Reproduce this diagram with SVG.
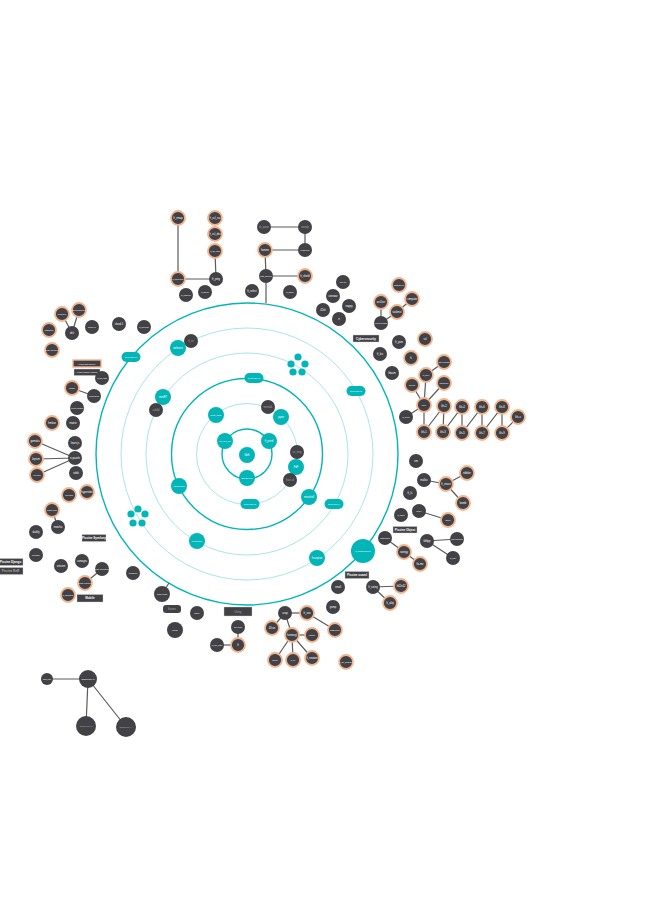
<svg xmlns="http://www.w3.org/2000/svg" width="667" height="908" viewBox="0 0 667 908">
<style>
text{font-family:"Liberation Sans","DejaVu Sans",sans-serif;font-size:2.6px;text-anchor:middle;dominant-baseline:central;fill:#ffffff}
.d{fill:#424145}
.o{fill:#424145;stroke:#f1b48e;stroke-width:1.8}
.t{fill:#03b5b7}
.rt{fill:none;stroke:#03b5b7;stroke-width:1.4}
.rl{fill:none;stroke:#9fe2e3;stroke-width:0.9}
.e{stroke:#5b5b5b;stroke-width:1.2;fill:none}
.g{fill:#a9a9ab}
.bx{fill:#424145;stroke:#cfcfcf;stroke-width:0.4}
.bt{font-size:3px;font-weight:bold}
</style>
<rect width="667" height="908" fill="#ffffff"/>
<g id="rings">
<circle class="rt" cx="247" cy="454" r="151"/>
<circle class="rl" cx="247" cy="454" r="126"/>
<circle class="rl" cx="247" cy="454" r="101"/>
<circle class="rt" cx="247" cy="454" r="75.5"/>
<circle class="rl" cx="247" cy="454" r="50.5"/>
<circle class="rt" cx="247" cy="454" r="25"/>
</g>
<g id="connectors">
<line class="e" x1="178" y1="218" x2="178" y2="279"/>
<line class="e" x1="178" y1="279" x2="216" y2="279"/>
<line class="e" x1="216" y1="279" x2="215" y2="251"/>
<line class="e" x1="264" y1="227" x2="305" y2="227"/>
<line class="e" x1="305" y1="227" x2="305" y2="250"/>
<line class="e" x1="265" y1="250" x2="305" y2="250"/>
<line class="e" x1="265" y1="250" x2="266" y2="276"/>
<line class="e" x1="266" y1="276" x2="305" y2="276"/>
<line class="e" x1="266" y1="276" x2="266" y2="303"/>
<line class="e" x1="381" y1="302" x2="381" y2="323"/>
<line class="e" x1="381" y1="323" x2="397" y2="312"/>
<line class="e" x1="397" y1="312" x2="412" y2="299"/>
<line class="e" x1="426" y1="375" x2="444" y2="362"/>
<line class="e" x1="426" y1="375" x2="424" y2="405"/>
<line class="e" x1="412" y1="385" x2="424" y2="405"/>
<line class="e" x1="444" y1="383" x2="424" y2="405"/>
<line class="e" x1="424" y1="405" x2="406" y2="417"/>
<line class="e" x1="424" y1="405" x2="424" y2="432"/>
<polyline class="e" points="424,432 444,406 443,432 462,407 462,433 482,407 482,433 502,407 502,433 518,417"/>
<line class="e" x1="424" y1="480" x2="446" y2="484"/>
<line class="e" x1="446" y1="484" x2="467" y2="473"/>
<line class="e" x1="446" y1="484" x2="463" y2="503"/>
<line class="e" x1="419" y1="511" x2="448" y2="520"/>
<line class="e" x1="385" y1="538" x2="404" y2="552"/>
<line class="e" x1="404" y1="552" x2="420" y2="564"/>
<line class="e" x1="427" y1="541" x2="457" y2="539"/>
<line class="e" x1="427" y1="541" x2="453" y2="558"/>
<line class="e" x1="373" y1="587" x2="401" y2="586"/>
<line class="e" x1="373" y1="587" x2="390" y2="603"/>
<line class="e" x1="285" y1="613" x2="307" y2="613"/>
<line class="e" x1="285" y1="613" x2="272" y2="628"/>
<line class="e" x1="285" y1="613" x2="292" y2="635"/>
<line class="e" x1="292" y1="635" x2="312" y2="635"/>
<line class="e" x1="307" y1="613" x2="335" y2="630"/>
<line class="e" x1="292" y1="635" x2="275" y2="660"/>
<line class="e" x1="292" y1="635" x2="293" y2="660"/>
<line class="e" x1="292" y1="635" x2="312" y2="658"/>
<line class="e" x1="162" y1="594" x2="169" y2="583"/>
<line class="e" x1="238" y1="627" x2="238" y2="645"/>
<line class="e" x1="217" y1="645" x2="238" y2="645"/>
<line class="e" x1="72" y1="333" x2="62" y2="314"/>
<line class="e" x1="72" y1="333" x2="79" y2="310"/>
<line class="e" x1="72" y1="388" x2="94" y2="396"/>
<line class="e" x1="75" y1="458" x2="35" y2="441"/>
<line class="e" x1="75" y1="458" x2="36" y2="459"/>
<line class="e" x1="75" y1="458" x2="37" y2="475"/>
<line class="e" x1="52" y1="510" x2="58" y2="527"/>
<line class="e" x1="85" y1="583" x2="102" y2="569"/>
<line class="e" x1="47" y1="679" x2="88" y2="679"/>
<line class="e" x1="88" y1="679" x2="86" y2="726"/>
<line class="e" x1="88" y1="679" x2="126" y2="727"/>
</g>
<g id="core-dark">
<g id="minitalk"><circle class="d" cx="268" cy="407" r="7"/><text class="g" x="268" y="407">minitalk</text></g>
<g id="so_long"><circle class="d" cx="297" cy="452" r="7"/><text class="g" x="297" y="452">so_long</text></g>
<g id="ft_irc"><circle class="d" cx="191" cy="341" r="7"/><text class="g" x="191" y="341">ft_irc</text></g>
</g>
<g id="core">
<g id="libft"><circle class="t" cx="247" cy="455" r="8"/><text x="247" y="455" style="font-size:3.2px">libft</text></g>
<g id="gnl"><circle class="t" cx="225" cy="441" r="8"/><text x="225" y="441" style="font-size:2px">get_next_line</text></g>
<g id="printf"><circle class="t" cx="269" cy="441" r="8"/><text x="269" y="441">ft_printf</text></g>
<g id="b2br"><circle class="t" cx="247" cy="478" r="8"/><text x="247" y="478" style="font-size:2px">Born2beroot</text></g>
<g id="push_swap"><circle class="t" cx="216" cy="415" r="8"/><text x="216" y="415" style="font-size:2.2px">push_swap</text></g>
<g id="pipex"><circle class="t" cx="281" cy="417" r="8"/><text x="281" y="417">pipex</text></g>
<g id="fdf"><circle class="t" cx="296" cy="467" r="8"/><text x="296" y="467">FdF</text></g>
<g id="fractol"><circle class="d" cx="290" cy="480" r="7"/><text class="g" x="290" y="480">fract-ol</text></g>
<g id="exam02"><rect class="t" x="240.5" y="499" width="19" height="10" rx="5"/><text x="250" y="504" style="font-size:1.8px">Exam Rank 02</text></g>
<g id="exam03"><rect class="t" x="244.5" y="373" width="19" height="10" rx="5"/><text x="254" y="378" style="font-size:1.8px">Exam Rank 03</text></g>
<g id="philo"><circle class="t" cx="179" cy="486" r="8"/><text x="179" y="486" style="font-size:2px">philosophers</text></g>
<g id="minishell"><circle class="t" cx="309" cy="497" r="8"/><text x="309" y="497">minishell</text></g>
<g id="miniRT"><circle class="t" cx="163" cy="397" r="8"/><text x="163" y="397">miniRT</text></g>
<g id="cub3d"><circle class="d" cx="156" cy="410" r="7"/><text class="g" x="156" y="410">cub3d</text></g>
<g id="netpractice"><circle class="t" cx="197" cy="541" r="8"/><text x="197" y="541" style="font-size:2px">NetPractice</text></g>
<g id="exam04"><rect class="t" x="324.5" y="499" width="19" height="10" rx="5"/><text x="334" y="504" style="font-size:1.8px">Exam Rank 04</text></g>
<g id="cpp0"><circle class="t" cx="298" cy="357" r="3.6"/><circle class="t" cx="291" cy="364" r="3.6"/><circle class="t" cx="305" cy="364" r="3.6"/><circle class="t" cx="293" cy="372" r="3.6"/><circle class="t" cx="302" cy="372" r="3.6"/></g>
<g id="webserv"><circle class="t" cx="178" cy="348" r="8"/><text x="178" y="348">webserv</text></g>
<g id="cpp1"><circle class="t" cx="138" cy="509" r="3.6"/><circle class="t" cx="131" cy="514" r="3.6"/><circle class="t" cx="145" cy="514" r="3.6"/><circle class="t" cx="133" cy="523" r="3.6"/><circle class="t" cx="142" cy="523" r="3.6"/></g>
<g id="exam05"><rect class="t" x="346.5" y="386" width="19" height="10" rx="5"/><text x="356" y="391" style="font-size:1.8px">Exam Rank 05</text></g>
<g id="inception"><circle class="t" cx="317" cy="558" r="8"/><text x="317" y="558">Inception</text></g>
<g id="exam06"><rect class="t" x="121.5" y="352" width="19" height="10" rx="5"/><text x="131" y="357" style="font-size:1.8px">Exam Rank 06</text></g>
<g id="transcendence"><circle class="t" cx="363" cy="551" r="12"/><text x="363" y="551" style="font-size:2px">ft_transcendence</text></g>
</g>
<g id="outer">
<g id="n1"><circle class="o" cx="178" cy="218" r="7"/><text x="178" y="218">ft_nmap</text></g>
<g id="n2"><circle class="o" cx="215" cy="218" r="7"/><text x="215" y="218">ft_ssl_rsa</text></g>
<g id="n3"><circle class="o" cx="215" cy="234" r="7"/><text x="215" y="234">ft_ssl_des</text></g>
<g id="n4"><circle class="o" cx="215" cy="251" r="7"/><text x="215" y="251" style="font-size:2px">ft_ssl_md5</text></g>
<g id="n5"><circle class="o" cx="178" cy="279" r="7"/><text x="178" y="279" style="font-size:2px">ft_traceroute</text></g>
<g id="n6"><circle class="d" cx="216" cy="279" r="7"/><text x="216" y="279">ft_ping</text></g>
<g id="n7"><circle class="d" cx="186" cy="295" r="7"/><text x="186" y="295" style="font-size:2px">ft_malcolm</text></g>
<g id="n8"><circle class="d" cx="205" cy="292" r="7"/><text x="205" y="292" style="font-size:2px">ft_shield</text></g>
<g id="n9"><circle class="d" cx="264" cy="227" r="7"/><text class="g" x="264" y="227">dr_quine</text></g>
<g id="n10"><circle class="d" cx="305" cy="227" r="7"/><text class="g" x="305" y="227">woody</text></g>
<g id="n11"><circle class="d" cx="305" cy="250" r="7"/><text x="305" y="250" style="font-size:2px">pestilence</text></g>
<g id="n12"><circle class="o" cx="265" cy="250" r="7"/><text x="265" y="250">famine</text></g>
<g id="n13"><circle class="d" cx="266" cy="276" r="7"/><text x="266" y="276" style="font-size:2px">matt_daemon</text></g>
<g id="n14"><circle class="o" cx="305" cy="276" r="7"/><text x="305" y="276">ft_shield</text></g>
<g id="n15"><circle class="d" cx="252" cy="291" r="7"/><text x="252" y="291">ft_select</text></g>
<g id="n16"><circle class="d" cx="290" cy="292" r="7"/><text x="290" y="292" style="font-size:2px">ft_strace</text></g>
<g id="n17"><circle class="d" cx="343" cy="282" r="7"/><text x="343" y="282" style="font-size:2px">lem-ipc</text></g>
<g id="n18"><circle class="d" cx="333" cy="296" r="7"/><text x="333" y="296">corewar</text></g>
<g id="n19"><circle class="d" cx="349" cy="306" r="7"/><text x="349" y="306">nappy</text></g>
<g id="n20"><circle class="d" cx="323" cy="310" r="7"/><text x="323" y="310">42sh</text></g>
<g id="n21"><circle class="d" cx="339" cy="319" r="7"/><text x="339" y="319">rt</text></g>
<g id="n22"><circle class="o" cx="399" cy="285" r="7"/><text x="399" y="285" style="font-size:2px">abstract-vm</text></g>
<g id="n23"><circle class="o" cx="412" cy="299" r="7"/><text x="412" y="299">computor</text></g>
<g id="n24"><circle class="o" cx="381" cy="302" r="7"/><text x="381" y="302">ocr2ocr</text></g>
<g id="n25"><circle class="o" cx="397" cy="312" r="7"/><text x="397" y="312">taskmst</text></g>
<g id="n26"><circle class="d" cx="381" cy="323" r="7"/><text x="381" y="323" style="font-size:2px">expert-system</text></g>
<g id="lbl-cyber"><rect class="bx" x="353" y="335" width="26" height="7"/><text class="bt" x="366" y="338.5">Cybersecurity</text></g>
<g id="n27"><circle class="d" cx="399" cy="342" r="7"/><text x="399" y="342">ft_yam</text></g>
<g id="n28"><circle class="d" cx="380" cy="354" r="7"/><text x="380" y="354">ft_lex</text></g>
<g id="n29"><circle class="o" cx="425" cy="339" r="7"/><text x="425" y="339">ssl</text></g>
<g id="n30"><circle class="o" cx="411" cy="358" r="7"/><text x="411" y="358">ft</text></g>
<g id="n31"><circle class="d" cx="392" cy="373" r="7"/><text x="392" y="373">libasm</text></g>
<g id="n32"><circle class="o" cx="444" cy="362" r="7"/><text x="444" y="362" style="font-size:2px">little-penguin</text></g>
<g id="n33"><circle class="o" cx="426" cy="375" r="7"/><text x="426" y="375" style="font-size:2px">ft_linux</text></g>
<g id="n34"><circle class="o" cx="444" cy="383" r="7"/><text x="444" y="383" style="font-size:2px">userspace</text></g>
<g id="n35"><circle class="o" cx="412" cy="385" r="7"/><text x="412" y="385" style="font-size:2px">drivers</text></g>
<g id="n36"><circle class="o" cx="424" cy="405" r="7"/><text x="424" y="405" style="font-size:2px">kfs-0</text></g>
<g id="n37"><circle class="d" cx="406" cy="417" r="7"/><text x="406" y="417" style="font-size:2px">ft_linear</text></g>
<g id="kfs2"><circle class="o" cx="444" cy="406" r="7"/><text x="444" y="406">kfs-2</text></g>
<g id="kfs4"><circle class="o" cx="462" cy="407" r="7"/><text x="462" y="407">kfs-4</text></g>
<g id="kfs6"><circle class="o" cx="482" cy="407" r="7"/><text x="482" y="407">kfs-6</text></g>
<g id="kfs8"><circle class="o" cx="502" cy="407" r="7"/><text x="502" y="407">kfs-8</text></g>
<g id="kfsx"><circle class="o" cx="518" cy="417" r="7"/><text x="518" y="417">kfs-x</text></g>
<g id="kfs1"><circle class="o" cx="424" cy="432" r="7"/><text x="424" y="432">kfs-1</text></g>
<g id="kfs3"><circle class="o" cx="443" cy="432" r="7"/><text x="443" y="432">kfs-3</text></g>
<g id="kfs5"><circle class="o" cx="462" cy="433" r="7"/><text x="462" y="433">kfs-5</text></g>
<g id="kfs7"><circle class="o" cx="482" cy="433" r="7"/><text x="482" y="433">kfs-7</text></g>
<g id="kfs9"><circle class="o" cx="502" cy="433" r="7"/><text x="502" y="433">kfs-9</text></g>
<g id="n38"><circle class="d" cx="416" cy="461" r="7"/><text x="416" y="461">nm</text></g>
<g id="n39"><circle class="d" cx="424" cy="480" r="7"/><text x="424" y="480">malloc</text></g>
<g id="n40"><circle class="o" cx="446" cy="484" r="7"/><text x="446" y="484">ft_strace</text></g>
<g id="n41"><circle class="o" cx="467" cy="473" r="7"/><text x="467" y="473">nibbler</text></g>
<g id="n42"><circle class="o" cx="463" cy="503" r="7"/><text x="463" y="503">bomb</text></g>
<g id="n43"><circle class="d" cx="410" cy="493" r="7"/><text x="410" y="493">ft_ls</text></g>
<g id="n44"><circle class="d" cx="401" cy="515" r="7"/><text x="401" y="515" style="font-size:2px">ft_script</text></g>
<g id="n45"><circle class="d" cx="419" cy="511" r="7"/><text x="419" y="511" style="font-size:2px">zappy</text></g>
<g id="n46"><circle class="o" cx="448" cy="520" r="7"/><text x="448" y="520" style="font-size:2px">gbmu</text></g>
<g id="lbl-object"><rect class="bx" x="393" y="526.5" width="24" height="6.5"/><text class="bt" x="405" y="529.8">Piscine Object</text></g>
<g id="n47"><circle class="d" cx="385" cy="538" r="7"/><text x="385" y="538" style="font-size:2px">bistromatic</text></g>
<g id="n48"><circle class="o" cx="404" cy="552" r="7"/><text x="404" y="552">swingy</text></g>
<g id="n49"><circle class="o" cx="420" cy="564" r="7"/><text x="420" y="564">fix-me</text></g>
<g id="n50"><circle class="d" cx="427" cy="541" r="7"/><text x="427" y="541">libftpp</text></g>
<g id="n51"><circle class="d" cx="457" cy="539" r="7"/><text x="457" y="539" style="font-size:2px">avaj-launcher</text></g>
<g id="n52"><circle class="d" cx="453" cy="558" r="7"/><text x="453" y="558" style="font-size:2px">ft_ality</text></g>
<g id="lbl-ocaml"><rect class="bx" x="345" y="571.5" width="24" height="7"/><text class="bt" x="357" y="575">Piscine ocaml</text></g>
<g id="n53"><circle class="d" cx="338" cy="587" r="7"/><text x="338" y="587">small</text></g>
<g id="n54"><circle class="d" cx="333" cy="607" r="7"/><text x="333" y="607">gomp</text></g>
<g id="n55"><circle class="d" cx="373" cy="587" r="7"/><text x="373" y="587">ft_turing</text></g>
<g id="n56"><circle class="o" cx="401" cy="586" r="7"/><text x="401" y="586">h42n42</text></g>
<g id="n57"><circle class="o" cx="390" cy="603" r="7"/><text x="390" y="603">ft_ality</text></g>
<g id="n58"><circle class="d" cx="285" cy="613" r="7"/><text x="285" y="613">scop</text></g>
<g id="n59"><circle class="o" cx="307" cy="613" r="7"/><text x="307" y="613">ft_vox</text></g>
<g id="n60"><circle class="o" cx="272" cy="628" r="7"/><text x="272" y="628">42run</text></g>
<g id="n61"><circle class="o" cx="292" cy="635" r="7"/><text x="292" y="635">humangl</text></g>
<g id="n62"><circle class="o" cx="312" cy="635" r="7"/><text x="312" y="635" style="font-size:2px">particle</text></g>
<g id="n63"><circle class="o" cx="335" cy="630" r="7"/><text x="335" y="630" style="font-size:2px">shaderpixel</text></g>
<g id="n64"><circle class="o" cx="275" cy="660" r="7"/><text x="275" y="660" style="font-size:2px">guimp</text></g>
<g id="n65"><circle class="o" cx="293" cy="660" r="7"/><text x="293" y="660" style="font-size:2px">rt_v1</text></g>
<g id="n66"><circle class="o" cx="312" cy="658" r="7"/><text x="312" y="658">ft_newton</text></g>
<g id="n67"><circle class="o" cx="346" cy="662" r="7"/><text x="346" y="662" style="font-size:2px">in_the_shadows</text></g>
<g id="n68"><circle class="d" cx="133" cy="573" r="7"/><text x="133" y="573" style="font-size:2px">boot2root</text></g>
<g id="n69"><circle class="d" cx="162" cy="594" r="8"/><text x="162" y="594" style="font-size:2px">snow-crash</text></g>
<g id="lbl-exams"><rect class="d" x="163" y="605" width="18" height="8" rx="3"/><text class="g" x="172" y="609" style="font-size:2.6px">Exams</text></g>
<g id="n70"><circle class="d" cx="197" cy="613" r="7"/><text x="197" y="613" style="font-size:2px">darkly</text></g>
<g id="n71"><circle class="d" cx="175" cy="630" r="8"/><text x="175" y="630" style="font-size:2px">rainfall</text></g>
<g id="lbl-unity"><rect class="bx" x="224" y="607" width="28" height="9"/><text class="g" x="238" y="611.5" style="font-size:3px">Unity</text></g>
<g id="n72"><circle class="d" cx="238" cy="627" r="7"/><text x="238" y="627" style="font-size:2px">roll-a-ball</text></g>
<g id="n73"><circle class="o" cx="238" cy="645" r="7"/><text x="238" y="645">ft</text></g>
<g id="n74"><circle class="d" cx="217" cy="645" r="7"/><text x="217" y="645" style="font-size:2px">in_the_dark</text></g>
<g id="n75"><circle class="o" cx="62" cy="314" r="7"/><text x="62" y="314" style="font-size:2px">multilayer</text></g>
<g id="n76"><circle class="o" cx="79" cy="310" r="7"/><text x="79" y="310" style="font-size:2px">total-perspective</text></g>
<g id="n77"><circle class="d" cx="72" cy="333" r="7"/><text x="72" y="333">dslr</text></g>
<g id="n78"><circle class="o" cx="49" cy="330" r="7"/><text x="49" y="330" style="font-size:2px">leaffliction</text></g>
<g id="n79"><circle class="o" cx="52" cy="350" r="7"/><text x="52" y="350" style="font-size:2px">ready set boole</text></g>
<g id="n80"><circle class="d" cx="92" cy="327" r="7"/><text x="92" y="327" style="font-size:2px">docker-1</text></g>
<g id="n81"><circle class="d" cx="119" cy="324" r="7"/><text x="119" y="324">cloud-1</text></g>
<g id="n82"><circle class="d" cx="144" cy="327" r="7"/><text x="144" y="327" style="font-size:2px">ft_services</text></g>
<g id="lbl-ai"><rect class="d" x="73" y="360" width="28" height="7" style="stroke:#f1b48e;stroke-width:1.4"/><text x="87" y="363.5" style="font-size:1.8px">Python Data Science</text></g>
<g id="lbl-ai2"><rect class="bx" x="74" y="369" width="26" height="6.5"/><text x="87" y="372.3" style="font-size:1.8px">Python Machine Learning</text></g>
<g id="n83"><circle class="d" cx="102" cy="378" r="7"/><text x="102" y="378" style="font-size:2px">ft_ssl_md5</text></g>
<g id="n84"><circle class="o" cx="72" cy="388" r="7"/><text x="72" y="388" style="font-size:2px">krpsim</text></g>
<g id="n85"><circle class="d" cx="94" cy="396" r="7"/><text x="94" y="396" style="font-size:2px">computorv1</text></g>
<g id="n86"><circle class="d" cx="77" cy="408" r="7"/><text x="77" y="408" style="font-size:2px">expert-system</text></g>
<g id="n87"><circle class="o" cx="52" cy="423" r="7"/><text x="52" y="423">hmlear</text></g>
<g id="n88"><circle class="d" cx="73" cy="423" r="7"/><text x="73" y="423">matrix</text></g>
<g id="n89"><circle class="o" cx="35" cy="441" r="7"/><text x="35" y="441">gomoku</text></g>
<g id="n90"><circle class="o" cx="36" cy="459" r="7"/><text x="36" y="459">krpsim</text></g>
<g id="n91"><circle class="o" cx="37" cy="475" r="7"/><text x="37" y="475" style="font-size:2px">n-puzzle</text></g>
<g id="n92"><circle class="d" cx="75" cy="443" r="7"/><text x="75" y="443">learn js</text></g>
<g id="n93"><circle class="d" cx="75" cy="458" r="7"/><text x="75" y="458">n-puzzle</text></g>
<g id="n94"><circle class="d" cx="76" cy="473" r="7"/><text x="76" y="473">rubik</text></g>
<g id="n95"><circle class="o" cx="69" cy="495" r="7"/><text x="69" y="495" style="font-size:2px">red-tetris</text></g>
<g id="n96"><circle class="o" cx="87" cy="492" r="7"/><text x="87" y="492">hypertube</text></g>
<g id="n97"><circle class="o" cx="52" cy="510" r="7"/><text x="52" y="510" style="font-size:2px">music-room</text></g>
<g id="n98"><circle class="d" cx="58" cy="527" r="7"/><text x="58" y="527">matcha</text></g>
<g id="n99"><circle class="d" cx="36" cy="532" r="7"/><text x="36" y="532">darkly</text></g>
<g id="lbl-symfony"><rect class="bx" x="82" y="534.5" width="24" height="7"/><text class="bt" x="94" y="538">Piscine Symfony</text></g>
<g id="n100"><circle class="d" cx="36" cy="555" r="7"/><text x="36" y="555" style="font-size:2px">camagru</text></g>
<g id="lbl-django"><rect class="bx" x="-2" y="558.5" width="25" height="7"/><text class="bt" x="10.5" y="562">Piscine Django</text></g>
<g id="lbl-ror"><rect class="bx" x="-2" y="567.5" width="25" height="7"/><text class="bt g" x="10.5" y="571">Piscine RoR</text></g>
<g id="n101"><circle class="d" cx="61" cy="566" r="7"/><text x="61" y="566">unicorn</text></g>
<g id="n102"><circle class="d" cx="82" cy="561" r="7"/><text x="82" y="561">camagru</text></g>
<g id="n103"><circle class="d" cx="102" cy="569" r="7"/><text x="102" y="569" style="font-size:2px">swifty-companion</text></g>
<g id="n104"><circle class="o" cx="85" cy="583" r="7"/><text x="85" y="583" style="font-size:2px">swifty-proteins</text></g>
<g id="n105"><circle class="o" cx="68" cy="595" r="7"/><text x="68" y="595" style="font-size:2px">ft_hangouts</text></g>
<g id="lbl-mobile"><rect class="bx" x="77" y="594.5" width="26" height="7.5"/><text class="bt" x="90" y="598.3">Mobile</text></g>
<g id="n106"><circle class="d" cx="47" cy="679" r="6"/><text x="47" y="679" style="font-size:1.8px">swift_intro</text></g>
<g id="n107"><circle class="d" cx="88" cy="679" r="9"/><text x="88" y="679" style="font-size:2.2px">Swiftmobile 2</text></g>
<g id="n108"><circle class="d" cx="86" cy="726" r="10"/><text class="g" x="86" y="726" style="font-size:2.2px">Swiftmobile 3</text></g>
<g id="n109"><circle class="d" cx="126" cy="727" r="10"/><text class="g" x="126" y="727" style="font-size:2.2px">Swiftmobile 4</text></g>
</g>
</svg>
